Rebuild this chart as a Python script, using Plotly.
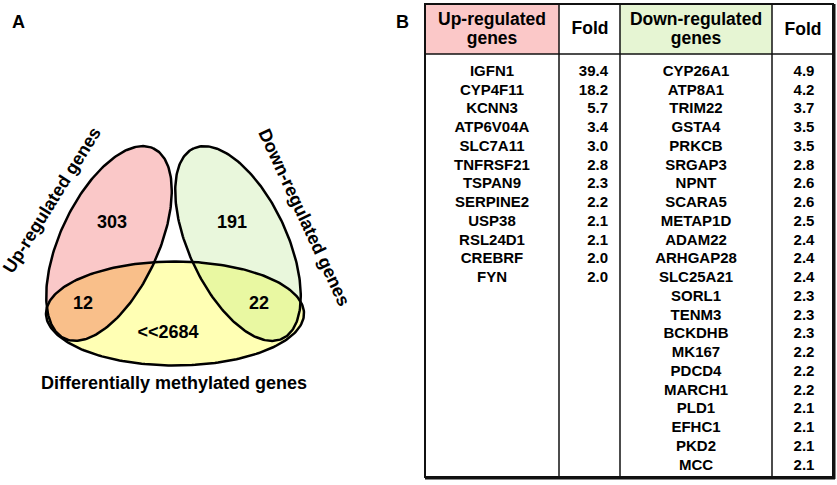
import numpy as np
import plotly.graph_objects as go

# ---- data ----
up_genes = ["IGFN1", "CYP4F11", "KCNN3", "ATP6V04A", "SLC7A11", "TNFRSF21",
            "TSPAN9", "SERPINE2", "USP38", "RSL24D1", "CREBRF", "FYN"]
up_fold = [39.4, 18.2, 5.7, 3.4, 3.0, 2.8, 2.3, 2.2, 2.1, 2.1, 2.0, 2.0]

down_genes = ["CYP26A1", "ATP8A1", "TRIM22", "GSTA4", "PRKCB", "SRGAP3", "NPNT",
              "SCARA5", "METAP1D", "ADAM22", "ARHGAP28", "SLC25A21", "SORL1",
              "TENM3", "BCKDHB", "MK167", "PDCD4", "MARCH1", "PLD1", "EFHC1",
              "PKD2", "MCC"]
down_fold = [4.9, 4.2, 3.7, 3.5, 3.5, 2.8, 2.6, 2.6, 2.5, 2.4, 2.4, 2.4, 2.3,
             2.3, 2.3, 2.2, 2.2, 2.2, 2.1, 2.1, 2.1, 2.1]

venn_sets = ["Up-regulated genes", "Down-regulated genes", "Differentially methylated genes"]
venn_counts = {"up": "303", "down": "191", "up_meth": "12", "down_meth": "22", "meth": "<<2684"}

W, H = 837, 485
FONT = "Arial, Liberation Sans, sans-serif"


def ellipse(cx, cy, a, b, tilt, n=240):
    # a = semi-major (along tilted vertical), tilt in degrees from vertical
    t = np.linspace(0, 2 * np.pi, n, endpoint=False)
    phi = np.radians(tilt)
    ux, uy = np.sin(phi), -np.cos(phi)
    vx, vy = np.cos(phi), np.sin(phi)
    x = cx + a * np.cos(t) * ux + b * np.sin(t) * vx
    y = cy + a * np.cos(t) * uy + b * np.sin(t) * vy
    return list(zip(x, y))


def clip(subject, clipper):
    # Sutherland-Hodgman, clipper convex
    def inside(p, a, b, s):
        return s * ((b[0] - a[0]) * (p[1] - a[1]) - (b[1] - a[1]) * (p[0] - a[0])) >= 0

    def cross_pt(p1, p2, a, b):
        x1, y1 = p1; x2, y2 = p2; x3, y3 = a; x4, y4 = b
        d = (x1 - x2) * (y3 - y4) - (y1 - y2) * (x3 - x4)
        px = ((x1 * y2 - y1 * x2) * (x3 - x4) - (x1 - x2) * (x3 * y4 - y3 * x4)) / d
        py = ((x1 * y2 - y1 * x2) * (y3 - y4) - (y1 - y2) * (x3 * y4 - y3 * x4)) / d
        return (px, py)

    cx = np.mean([p[0] for p in clipper]); cy = np.mean([p[1] for p in clipper])
    a0, b0 = clipper[0], clipper[1]
    s = 1 if ((b0[0] - a0[0]) * (cy - a0[1]) - (b0[1] - a0[1]) * (cx - a0[0])) >= 0 else -1
    out = subject
    for i in range(len(clipper)):
        a, b = clipper[i], clipper[(i + 1) % len(clipper)]
        inp = out
        out = []
        if not inp:
            break
        prev = inp[-1]
        for cur in inp:
            if inside(cur, a, b, s):
                if not inside(prev, a, b, s):
                    out.append(cross_pt(prev, cur, a, b))
                out.append(cur)
            elif inside(prev, a, b, s):
                out.append(cross_pt(prev, cur, a, b))
            prev = cur
    return out


pink = ellipse(109, 243.5, 105, 49, 25)
green = ellipse(238, 243.5, 105, 49, -25)
yellow = ellipse(175, 313.5, 52, 129, 0)

fig = go.Figure()


def poly(pts, fill=None, line=None, lw=0):
    xs = [p[0] for p in pts] + [pts[0][0]]
    ys = [p[1] for p in pts] + [pts[0][1]]
    fig.add_trace(go.Scatter(
        x=xs, y=ys, mode="lines",
        fill="toself" if fill else None, fillcolor=fill,
        line=dict(color=line or "rgba(0,0,0,0)", width=lw),
        hoverinfo="skip", showlegend=False))


poly(pink, fill="#fac8c8")
poly(green, fill="#e9f7dc")
poly(yellow, fill="#ffffb4")
poly(clip(yellow, pink), fill="#f9bf8a")
poly(clip(yellow, green), fill="#e9f8a2")
for e in (pink, green, yellow):
    poly(e, line="black", lw=2.5)

# venn counts
fig.add_trace(go.Scatter(
    x=[112, 232, 83, 259, 168], y=[223, 223, 304, 304, 333],
    text=[venn_counts[k] for k in ["up", "down", "up_meth", "down_meth", "meth"]],
    mode="text", textfont=dict(family=FONT, size=18, color="black", weight="bold"),
    hoverinfo="skip", showlegend=False))

# ---- table ----
shapes = [
    dict(type="rect", x0=425, x1=559, y0=4, y1=54, fillcolor="#fbc8c8", line_width=0, layer="below"),
    dict(type="rect", x0=620, x1=772, y0=4, y1=54, fillcolor="#e6f5d3", line_width=0, layer="below"),
    dict(type="rect", x0=425, x1=833, y0=4, y1=477, line=dict(color="#111", width=2)),
    dict(type="line", x0=834, x1=834, y0=4, y1=479, line=dict(color="#111", width=3)),
    dict(type="line", x0=425, x1=835, y0=478, y1=478, line=dict(color="#111", width=3)),
    dict(type="line", x0=425, x1=833, y0=54, y1=54, line=dict(color="#111", width=1.5)),
]
for xv in (559, 620, 772):
    shapes.append(dict(type="line", x0=xv, x1=xv, y0=4, y1=477, line=dict(color="#111", width=1.5)))

row0, dy = 72, 18.75
up_y = [row0 + i * dy for i in range(len(up_genes))]
down_y = [row0 + i * dy for i in range(len(down_genes))]

cell_font = dict(family=FONT, size=15, color="black", weight="bold")
fig.add_trace(go.Scatter(x=[492] * len(up_genes), y=up_y, text=up_genes, mode="text",
                         textfont=cell_font, hoverinfo="skip", showlegend=False))
fig.add_trace(go.Scatter(x=[608] * len(up_fold), y=up_y, text=[f"{v:.1f}" for v in up_fold],
                         mode="text", textposition="middle left",
                         textfont=cell_font, hoverinfo="skip", showlegend=False))
fig.add_trace(go.Scatter(x=[696] * len(down_genes), y=down_y, text=down_genes, mode="text",
                         textfont=cell_font, hoverinfo="skip", showlegend=False))
fig.add_trace(go.Scatter(x=[804] * len(down_fold), y=down_y, text=[f"{v:.1f}" for v in down_fold],
                         mode="text", textfont=cell_font, hoverinfo="skip", showlegend=False))

head_font = dict(family=FONT, size=17.5, color="black", weight="bold")
fig.add_trace(go.Scatter(
    x=[492, 492, 590, 696, 696, 803], y=[21, 39.5, 30, 21, 40, 31],
    text=["Up-regulated", "genes", "Fold", "Down-regulated", "genes", "Fold"],
    mode="text", textfont=head_font, hoverinfo="skip", showlegend=False))

annotations = [
    dict(x=18, y=22, text="A", textangle=0),
    dict(x=402, y=22, text="B", textangle=0),
    dict(x=52, y=200, text=venn_sets[0], textangle=-58),
    dict(x=304, y=217, text=venn_sets[1], textangle=65),
    dict(x=174, y=383, text=venn_sets[2], textangle=0),
]
for a in annotations:
    a.update(xref="x", yref="y", showarrow=False,
             font=dict(family=FONT, size=18, color="black", weight="bold"))

fig.update_layout(
    width=W, height=H,
    margin=dict(l=0, r=0, t=0, b=0),
    paper_bgcolor="white", plot_bgcolor="white",
    shapes=shapes, annotations=annotations,
    xaxis=dict(range=[0, W], visible=False, fixedrange=True),
    yaxis=dict(range=[H, 0], visible=False, fixedrange=True),
)

# page body has an 8px default margin; drop it so the figure sits at 0,0
fig.write_html("out.html", config={"displayModeBar": False},
               post_script="document.body.style.margin='0';")
